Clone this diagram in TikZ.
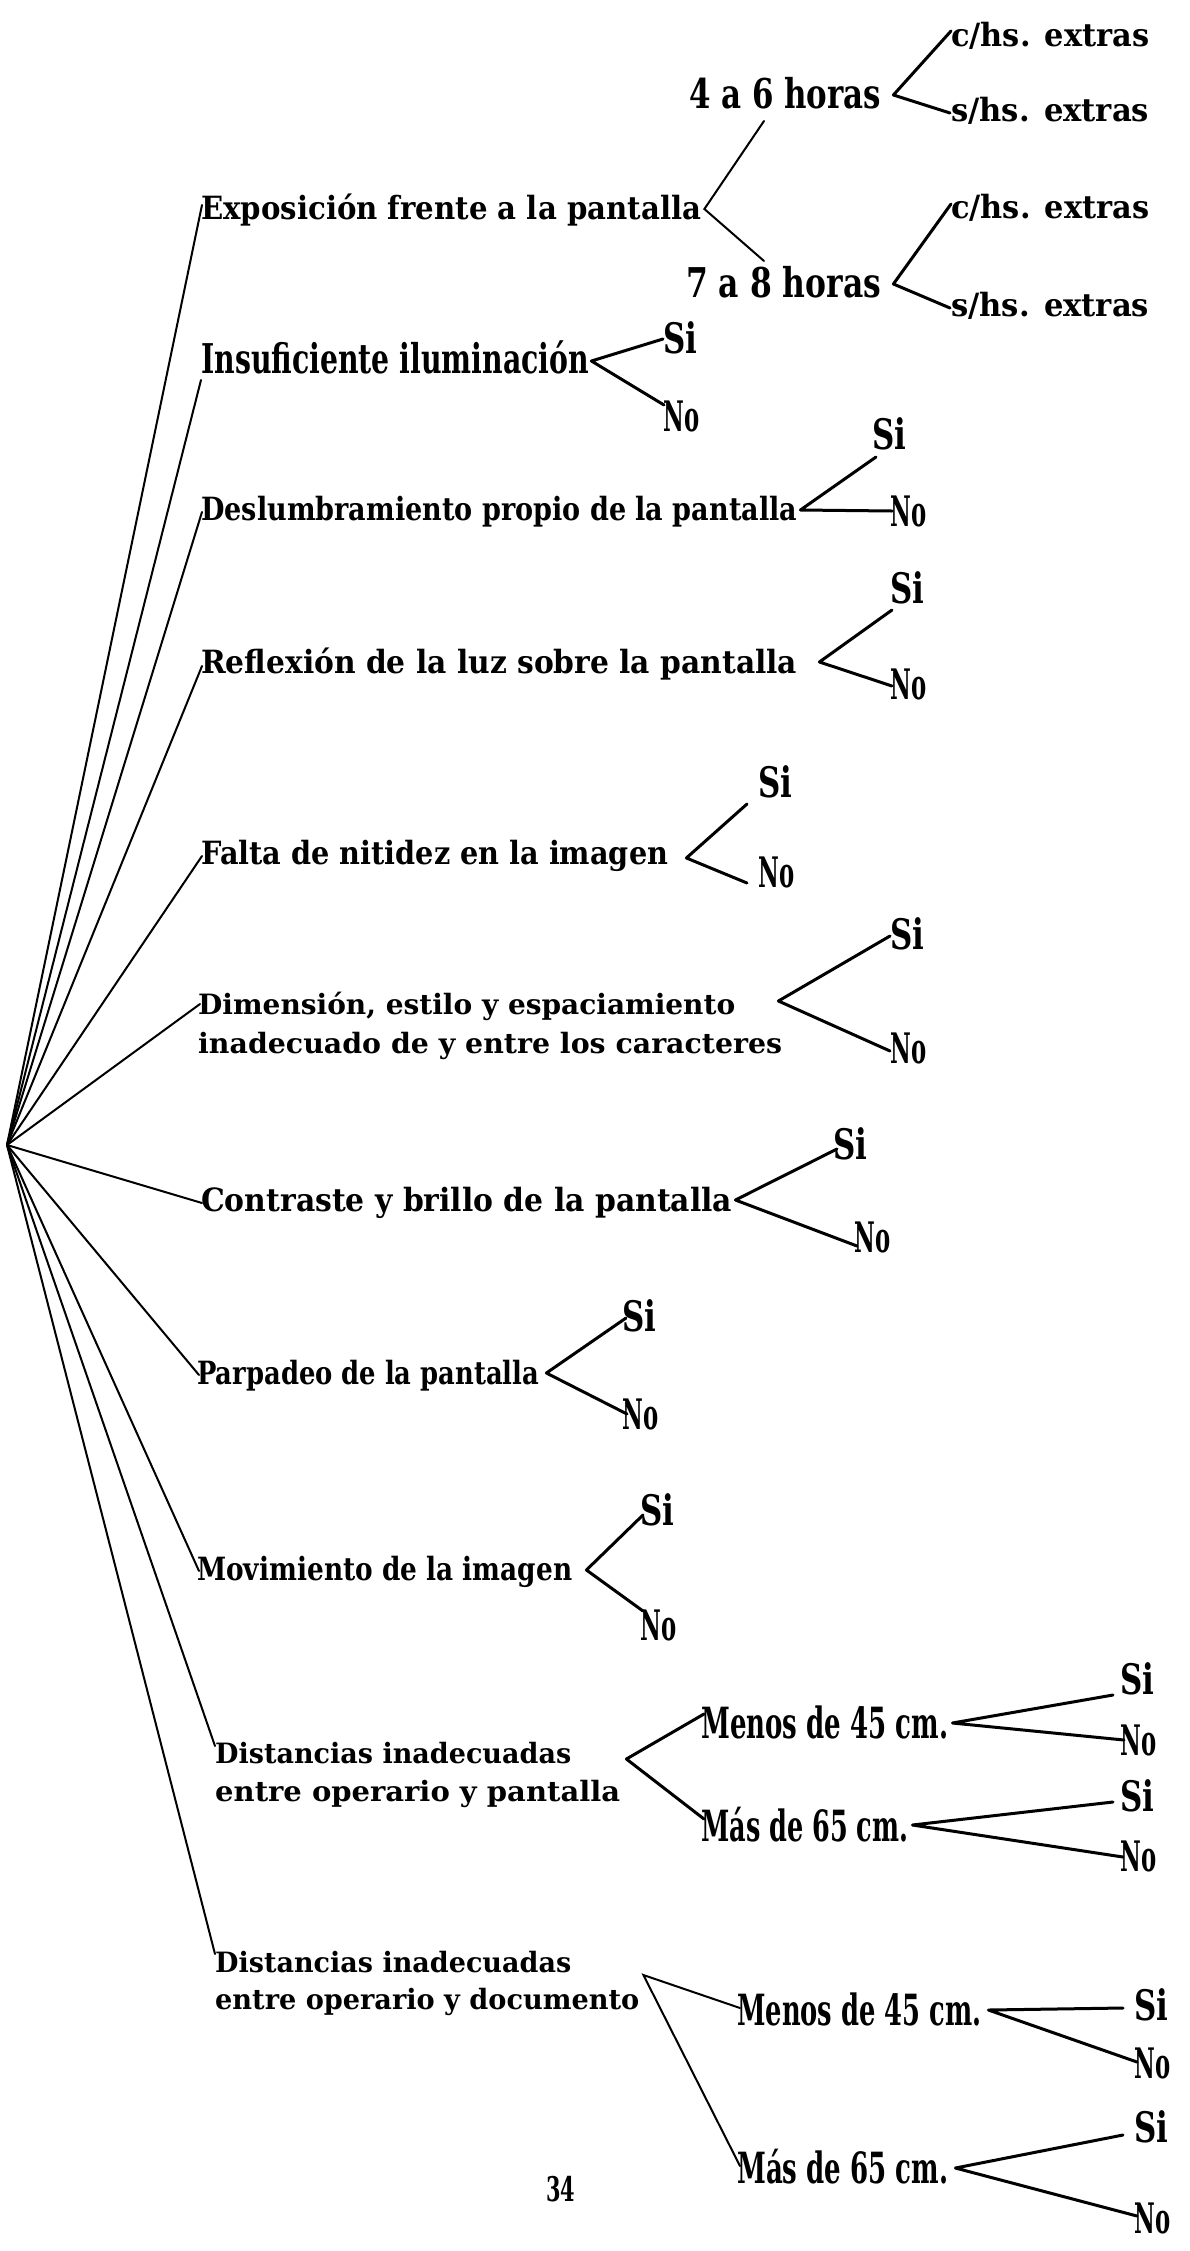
\documentclass[tikz,border=0pt]{standalone}
\usepackage{fontspec}
\usepackage{graphicx}
\newfontfamily\dvs{DejaVu Serif}
\newcommand{\fitw}[2]{\resizebox{#1pt}{\height}{#2}}
\begin{document}
\begin{tikzpicture}[x=1pt,y=-1pt,
  lbl/.style={inner sep=0pt, anchor=base west},
  nrm/.style={lbl, font=\fontsize{32}{36}\dvs\bfseries},
  sml/.style={lbl, font=\fontsize{28}{32}\dvs\bfseries},
  tall/.style={lbl, font=\fontsize{41}{45}\dvs\bfseries},
  tallb/.style={lbl, font=\fontsize{43}{47}\dvs\bfseries},
  yn/.style={lbl, font=\fontsize{42}{46}\dvs\bfseries},
  pgn/.style={lbl, font=\fontsize{34}{38}\dvs\bfseries},
  thinl/.style={line width=2pt, line cap=round},
  thickl/.style={line width=3pt, line cap=round, line join=round}]
\fill[white] (0,0) rectangle (1189,2251);
\useasboundingbox (0,0) rectangle (1189,2251);
\coordinate (root) at (7,1145);
% level 1
\node[nrm] (expo) at (201,219) {\fitw{500}{Exposición frente a la pantalla}};
\node[tall] (insu) at (201,373) {\fitw{388}{Insuficiente iluminación}};
\node[nrm] (desl) at (201,520) {\fitw{596}{Deslumbramiento propio de la pantalla}};
\node[nrm] (refl) at (201,673) {\fitw{596}{Reflexión de la luz sobre la pantalla}};
\node[nrm] (falta) at (201,864) {\fitw{467}{Falta de nitidez en la imagen}};
\node[sml] (dimA) at (198,1014) {\fitw{537}{Dimensión, estilo y espaciamiento}};
\node[sml] (dimB) at (198,1053) {\fitw{584}{inadecuado de y entre los caracteres}};
\node[nrm] (contr) at (201,1211) {\fitw{531}{Contraste y brillo de la pantalla}};
\node[nrm] (parp) at (197,1384) {\fitw{342}{Parpadeo de la pantalla}};
\node[nrm] (mov) at (197,1580) {\fitw{375}{Movimiento de la imagen}};
\node[sml] (dpA) at (215,1763) {\fitw{356}{Distancias inadecuadas}};
\node[sml] (dpB) at (215,1801) {\fitw{405}{entre operario y pantalla}};
\node[sml] (ddA) at (215,1972) {\fitw{356}{Distancias inadecuadas}};
\node[sml] (ddB) at (215,2009) {\fitw{424}{entre operario y documento}};
% level 2
\node[tall] (h46) at (689,108) {\fitw{192}{4 a 6 horas}};
\node[tall] (h78) at (686,297) {\fitw{195}{7 a 8 horas}};
\node[nrm] (chsA) at (951,46) {\fitw{198}{c/hs. extras}};
\node[nrm] (shsA) at (951,121) {\fitw{198}{s/hs. extras}};
\node[nrm] (chsB) at (951,218) {\fitw{198}{c/hs. extras}};
\node[nrm] (shsB) at (951,316) {\fitw{198}{s/hs. extras}};
\node[yn] (siI) at (663,353) {\fitw{34}{Si}};
\node[yn] (noI) at (663,431) {\fitw{36}{No}};
\node[yn] (siD) at (872,449) {\fitw{34}{Si}};
\node[yn] (noD) at (890,526) {\fitw{36}{No}};
\node[yn] (siR) at (890,603) {\fitw{34}{Si}};
\node[yn] (noR) at (890,699) {\fitw{36}{No}};
\node[yn] (siF) at (758,797) {\fitw{34}{Si}};
\node[yn] (noF) at (758,887) {\fitw{36}{No}};
\node[yn] (siM) at (890,949) {\fitw{34}{Si}};
\node[yn] (noM) at (890,1063) {\fitw{36}{No}};
\node[yn] (siC) at (833,1159) {\fitw{34}{Si}};
\node[yn] (noC) at (854,1252) {\fitw{36}{No}};
\node[yn] (siP) at (622,1331) {\fitw{34}{Si}};
\node[yn] (noP) at (622,1429) {\fitw{36}{No}};
\node[yn] (siV) at (640,1525) {\fitw{34}{Si}};
\node[yn] (noV) at (640,1640) {\fitw{36}{No}};
\node[tallb] (menP) at (701,1738) {\fitw{247}{Menos de 45 cm.}};
\node[tallb] (masP) at (701,1841) {\fitw{207}{Más de 65 cm.}};
\node[yn] (siMP) at (1120,1694) {\fitw{34}{Si}};
\node[yn] (noMP) at (1120,1755) {\fitw{36}{No}};
\node[yn] (siAP) at (1120,1811) {\fitw{34}{Si}};
\node[yn] (noAP) at (1120,1871) {\fitw{36}{No}};
\node[tallb] (menD) at (737,2025) {\fitw{244}{Menos de 45 cm.}};
\node[tallb] (masD) at (737,2183) {\fitw{211}{Más de 65 cm.}};
\node[yn] (siMD) at (1134,2020) {\fitw{34}{Si}};
\node[yn] (noMD) at (1134,2078) {\fitw{36}{No}};
\node[yn] (siAD) at (1134,2142) {\fitw{34}{Si}};
\node[yn] (noAD) at (1134,2233) {\fitw{36}{No}};
\node[pgn] (pg) at (546,2201) {\fitw{29}{34}};
% root connectors
\draw[thinl] (root) -- ([shift={(1,-14)}]expo.base west);
\draw[thinl] (root) -- ([shift={(0,7)}]insu.base west);
\draw[thinl] (root) -- ([shift={(1,-8)}]desl.base west);
\draw[thinl] (root) -- ([shift={(1,-7)}]refl.base west);
\draw[thinl] (root) -- ([shift={(1,-8)}]falta.base west);
\draw[thinl] (root) -- ([shift={(2,-10)}]dimA.base west);
\draw[thinl] (root) -- ([shift={(1,-8)}]contr.base west);
\draw[thinl] (root) -- ([shift={(2,-9)}]parp.base west);
\draw[thinl] (root) -- ([shift={(2,-9)}]mov.base west);
\draw[thinl] (root) -- ([shift={(0,-17)}]dpA.base west);
\draw[thinl] (root) -- ([shift={(0,-18)}]ddA.base west);
% exposicion
\draw[thinl] ([shift={(75,13)}]h46.base west) -- ([shift={(3,-10)}]expo.base east) -- ([shift={(78,-36)}]h78.base west);
\draw[thickl] ([shift={(0,-15)}]chsA.base west) -- ([shift={(12,-13)}]h46.base east) -- ([shift={(-1,-8)}]shsA.base west);
\draw[thickl] ([shift={(0,-14)}]chsB.base west) -- ([shift={(12,-13)}]h78.base east) -- ([shift={(-1,-8)}]shsB.base west);
% si/no branches
\draw[thickl] ([shift={(0,-14)}]siI.base west) -- ([shift={(2,-12)}]insu.base east) -- ([shift={(1,-26)}]noI.base west);
\draw[thickl] ([shift={(4,8)}]siD.base west) -- ([shift={(3,-10)}]desl.base east) -- ([shift={(2,-15)}]noD.base west);
\draw[thickl] ([shift={(2,7)}]siR.base west) -- ([shift={(22,-11)}]refl.base east) -- ([shift={(2,-13)}]noR.base west);
\draw[thickl] ([shift={(-11,7)}]siF.base west) -- ([shift={(18,-6)}]falta.base east) -- ([shift={(-11,-4)}]noF.base west);
\draw[thickl] ([shift={(0,-13)}]siM.base west) -- ([shift={(-4,-52)}]dimB.base east) -- ([shift={(0,-12)}]noM.base west);
\draw[thickl] ([shift={(4,-10)}]siC.base west) -- ([shift={(3,-11)}]contr.base east) -- ([shift={(3,-6)}]noC.base west);
\draw[thickl] ([shift={(4,-13)}]siP.base west) -- ([shift={(7,-11)}]parp.base east) -- ([shift={(5,-15)}]noP.base west);
\draw[thickl] ([shift={(3,-10)}]siV.base west) -- ([shift={(14,-10)}]mov.base east) -- ([shift={(3,-29)}]noV.base west);
% distancias pantalla
\draw[thickl] ([shift={(3,-24)}]menP.base west) -- ([shift={(6,-42)}]dpB.base east) -- ([shift={(3,-22)}]masP.base west);
\draw[thickl] ([shift={(-7,1)}]siMP.base west) -- ([shift={(4,-15)}]menP.base east) -- ([shift={(4,-15)}]noMP.base west);
\draw[thickl] ([shift={(-7,-9)}]siAP.base west) -- ([shift={(4,-16)}]masP.base east) -- ([shift={(3,-14)}]noAP.base west);
% distancias documento
\draw[thinl] ([shift={(3,-17)}]menD.base west) -- ([shift={(4,-34)}]ddB.base east) -- ([shift={(3,-17)}]masD.base west);
\draw[thickl] ([shift={(-11,-12)}]siMD.base west) -- ([shift={(7,-15)}]menD.base east) -- ([shift={(3,-16)}]noMD.base west);
\draw[thickl] ([shift={(-11,-7)}]siAD.base west) -- ([shift={(7,-15)}]masD.base east) -- ([shift={(3,-17)}]noAD.base west);
\end{tikzpicture}
\end{document}
